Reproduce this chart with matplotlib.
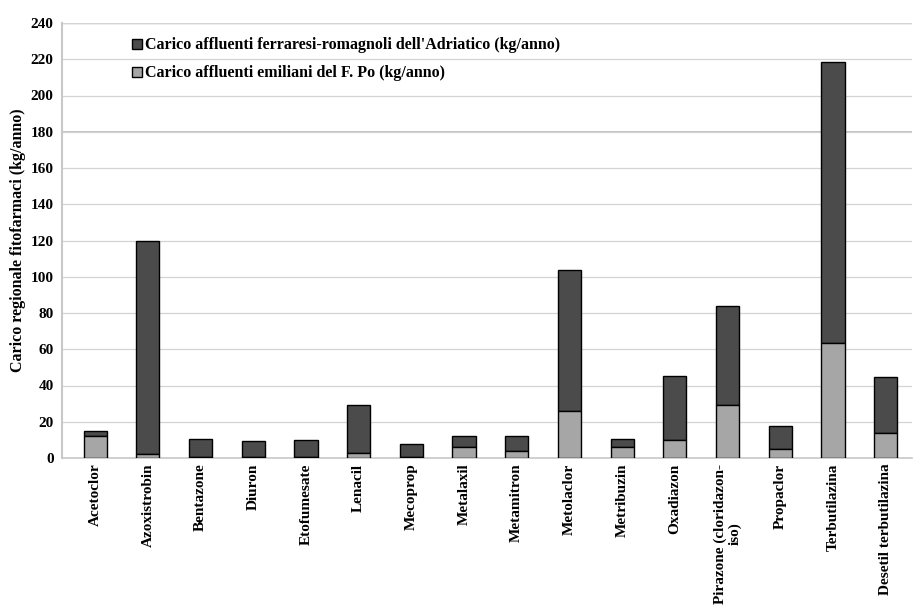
import numpy as np
import matplotlib
matplotlib.use("Agg")
import matplotlib.pyplot as plt

plt.rcParams["font.family"] = ["Liberation Serif", "DejaVu Serif"]
plt.rcParams["font.weight"] = "bold"

categories = [
    "Acetoclor", "Azoxistrobin", "Bentazone", "Diuron", "Etofumesate",
    "Lenacil", "Mecoprop", "Metalaxil", "Metamitron", "Metolaclor",
    "Metribuzin", "Oxadiazon", "Pirazone (cloridazon-\niso)", "Propaclor",
    "Terbutilazina", "Desetil terbutilazina",
]
po_load = [12, 2, 0.8, 0.6, 0.6, 3, 0.5, 6, 4, 26, 6, 10, 29.5, 5, 63.5, 14]
adriatic_load = [3, 118, 9.5, 8.8, 9.6, 26.5, 7.5, 6, 8, 78, 4.5, 35.5, 54.5, 12.5, 155, 30.5]
y_ticks = list(range(0, 241, 20))

label_adriatic = "Carico affluenti ferraresi-romagnoli dell'Adriatico (kg/anno)"
label_po = "Carico affluenti emiliani del F. Po (kg/anno)"

fig = plt.figure(figsize=(9.15, 6.12), dpi=100)
ax = fig.add_axes([62 / 915, 1 - 458 / 612, 850 / 915, 435 / 612])

x = np.arange(len(categories))
width = 0.44
ax.bar(x, adriatic_load, width, bottom=po_load, color="#4b4b4b", edgecolor="black",
       linewidth=1.0, label=label_adriatic, zorder=3)
ax.bar(x, po_load, width, color="#a6a6a6", edgecolor="black", linewidth=1.0,
       label=label_po, zorder=3)

ax.set_xlim(-0.63, 15.5)
ax.set_ylim(0, 240)
ax.set_yticks(y_ticks)
ax.tick_params(axis="y", length=0, labelsize=11, pad=6)
ax.set_xticks(x)
ax.set_xticklabels(categories, rotation=90, fontsize=11, fontweight="bold", va="top")
ax.tick_params(axis="x", length=0, pad=4)
ax.grid(axis="y", color="#d4d4d4", linewidth=0.9, zorder=0)
ax.axhline(240, color="#8a8a8a", linewidth=1.6, zorder=1)
ax.axhline(180, color="#b5b5b5", linewidth=1.2, zorder=1)

for side in ["top", "right"]:
    ax.spines[side].set_visible(False)
ax.spines["left"].set_color("#c8c8c8")
ax.spines["left"].set_linewidth(1.5)
ax.spines["bottom"].set_color("#c8c8c8")
ax.spines["bottom"].set_linewidth(1.2)

ax.set_ylabel("Carico regionale fitofarmaci (kg/anno)", fontsize=11.5, fontweight="bold", labelpad=3)

handles, labels = ax.get_legend_handles_labels()
leg = ax.legend(handles, labels, loc="upper left", bbox_to_anchor=(0.066, 1.0), frameon=False,
                handlelength=0.6, handleheight=0.6, handletextpad=0.2,
                labelspacing=0.75, prop={"weight": "bold", "size": 11.5})

fig.savefig("out.png", dpi=100)
